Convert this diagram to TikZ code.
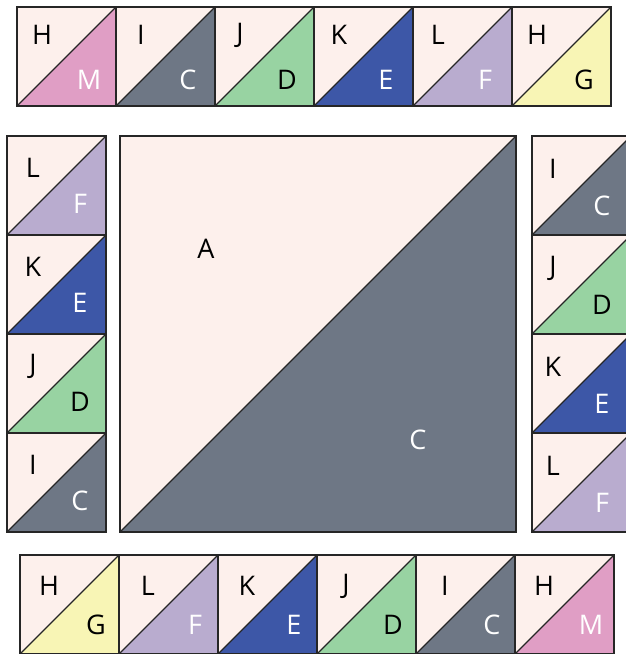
\documentclass[tikz,border=0pt]{standalone}
\usepackage{fontspec}
\setmainfont{Open Sans}
\definecolor{bgp}{HTML}{FDF0EC}
\definecolor{cgray}{HTML}{6E7785}
\definecolor{cpink}{HTML}{E09EC5}
\definecolor{cgreen}{HTML}{98D3A2}
\definecolor{cblue}{HTML}{3D57A7}
\definecolor{clav}{HTML}{B9ACCF}
\definecolor{cyel}{HTML}{F8F5B5}
\tikzset{
  edge/.style={draw=black!85, line width=1.1pt, line join=miter},
  lbl/.style={font=\fontsize{27}{27}\selectfont, inner sep=0pt, anchor=center},
}
% #1 x, #2 y (top-left), #3 fill, #4 upper letter, #5 lower letter, #6 lower text colour, #7 size
\newcommand\qsq[7]{%
  \fill[bgp] (#1,#2) rectangle ++(#7,#7);
  \fill[#3] (#1,#2+#7) -- ++(#7,0) -- ++(0,-#7) -- cycle;
  \draw[edge] (#1,#2) rectangle ++(#7,#7);
  \draw[edge] (#1,#2+#7) -- ++(#7,-#7);
  \node[lbl] at (#1+\ux,#2+\uy) {#4};
  \node[lbl, text=#6] at (#1+\lx,#2+\ly) {#5};
}
\begin{document}
\begin{tikzpicture}[x=1pt,y=-1pt]
\useasboundingbox (0,0) rectangle (626,654);
\clip (0,0) rectangle (626,654);
% top row
\def\ux{25}\def\uy{28}\def\lx{72}\def\ly{73}
\qsq{17}{7}{cpink}{H}{M}{white}{99}
\qsq{116}{7}{cgray}{I}{C}{white}{99}
\qsq{215}{7}{cgreen}{J}{D}{black}{99}
\qsq{314}{7}{cblue}{K}{E}{white}{99}
\qsq{413}{7}{clav}{L}{F}{white}{99}
\qsq{512}{7}{cyel}{H}{G}{black}{99}
% left column
\def\ux{26}\def\uy{32}\def\lx{73}\def\ly{68}
\qsq{7}{136}{clav}{L}{F}{white}{99}
\qsq{7}{235}{cblue}{K}{E}{white}{99}
\qsq{7}{334}{cgreen}{J}{D}{black}{99}
\qsq{7}{433}{cgray}{I}{C}{white}{99}
% right column
\def\ux{21}\def\uy{33}\def\lx{70}\def\ly{70}
\qsq{532}{136}{cgray}{I}{C}{white}{99}
\qsq{532}{235}{cgreen}{J}{D}{black}{99}
\qsq{532}{334}{cblue}{K}{E}{white}{99}
\qsq{532}{433}{clav}{L}{F}{white}{99}
% bottom row
\def\ux{29}\def\uy{31}\def\lx{76}\def\ly{70}
\qsq{20}{555}{cyel}{H}{G}{black}{99}
\qsq{119}{555}{clav}{L}{F}{white}{99}
\qsq{218}{555}{cblue}{K}{E}{white}{99}
\qsq{317}{555}{cgreen}{J}{D}{black}{99}
\qsq{416}{555}{cgray}{I}{C}{white}{99}
\qsq{515}{555}{cpink}{H}{M}{white}{99}
% big square
\fill[bgp] (120,136) rectangle (516,532);
\fill[cgray] (120,532) -- (516,136) -- (516,532) -- cycle;
\draw[edge] (120,136) rectangle (516,532);
\draw[edge] (120,532) -- (516,136);
\node[lbl] (A) at (206,249) {A};
\node[lbl, text=white] (C) at (418,440) {C};
\end{tikzpicture}
\end{document}
